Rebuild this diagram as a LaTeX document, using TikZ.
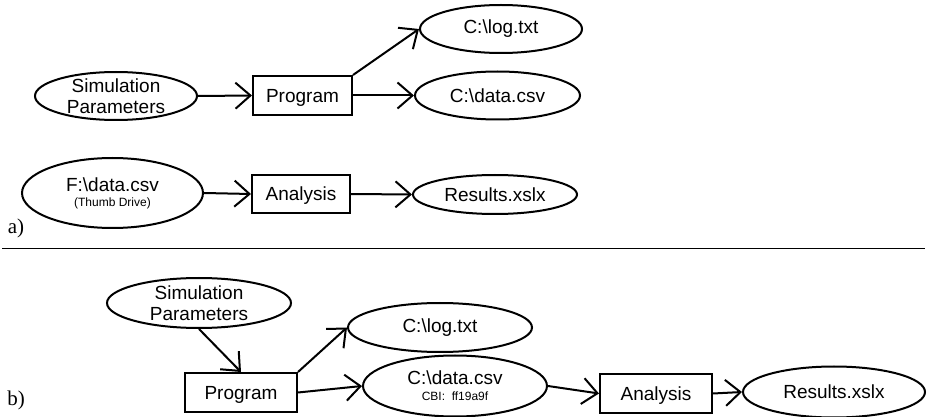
\documentclass[tikz,border=0pt]{standalone}
\usepackage{fontspec}
\setmainfont{Liberation Sans}
\newfontfamily\panelfont{Liberation Serif}
\usepackage{tikz}
\usetikzlibrary{shapes.geometric, arrows.meta, positioning}

\newcommand{\smalltag}[1]{{\fontsize{6}{7}\selectfont #1}}
\newcommand{\bs}{\textbackslash}

\begin{document}
\begin{tikzpicture}[
    x=0.5pt, y=-0.5pt,
    % Core styles
    datafile/.style={
        ellipse, draw=black, line width=1pt, inner sep=0pt,
        align=center, font=\fontsize{9.5}{10.5}\selectfont
    },
    process/.style={
        rectangle, draw=black, line width=1pt, inner sep=0pt,
        text depth=0pt, font=\fontsize{9.5}{10.5}\selectfont
    },
    flow/.style={
        -{Straight Barb[length=7.5pt, width=13pt]}, line width=1pt
    },
    panellabel/.style={font=\panelfont\fontsize{10.5}{12}\selectfont}
]
\useasboundingbox (0,0) rectangle (928,417);

% === PANEL A ===
\node[datafile, minimum width=81pt, minimum height=24pt, inner ysep=-3pt] (simA) at (116,96) {Simulation\\Parameters};
\node[process, minimum width=49.5pt, minimum height=19.5pt] (progA) at (302.5,95.5) {Program};
\node[datafile, minimum width=81pt, minimum height=24pt] (logA) at (501,29) {C:\bs log.txt};
\node[datafile, minimum width=82.5pt, minimum height=24pt] (dataA) at (497.5,95.5) {C:\bs data.csv};

\node[datafile, minimum width=90.5pt, minimum height=35pt] (thumbA) at (112.5,193) {F:\bs data.csv\\[-3pt]\smalltag{(Thumb Drive)}};
\node[process, minimum width=49pt, minimum height=19pt] (anaA) at (301,194) {Analysis};
\node[datafile, minimum width=82pt, minimum height=19.5pt] (resA) at (495,194.5) {Results.xslx};

\draw[flow] (simA.east) -- (progA.west);
\draw[flow] (progA.north east) -- (logA.west);
\draw[flow] (progA.east) -- (dataA.west);
\draw[flow] (thumbA.east) -- (anaA.west);
\draw[flow] (anaA.east) -- (resA.west);

\node[panellabel] (labA) at (16,228) {a)};

% === SEPARATOR ===
\coordinate (sepL) at (2,249);
\coordinate (sepR) at (925,249);
\draw[line width=0.5pt] (sepL) -- (sepR);

% === PANEL B ===
\node[datafile, minimum width=92pt, minimum height=25pt, inner ysep=-3pt] (simB) at (199,303) {Simulation\\Parameters};
\node[process, minimum width=56pt, minimum height=19.5pt] (progB) at (241,392.5) {Program};
\node[datafile, minimum width=92pt, minimum height=24.5pt] (logB) at (440,327.5) {C:\bs log.txt};
\node[datafile, minimum width=92pt, minimum height=30.5pt] (dataB) at (455,386) {C:\bs data.csv\\[-2.5pt]\smalltag{CBI:\ \ ff19a9f}};
\node[process, minimum width=56pt, minimum height=19.5pt] (anaB) at (656,393.5) {Analysis};
\node[datafile, minimum width=91pt, minimum height=25.5pt] (resB) at (834,392) {Results.xslx};

\draw[flow] (simB.south) -- (progB.north);
\draw[flow] (progB.north east) -- (logB.west);
\draw[flow] (progB.east) -- (dataB.west);
\draw[flow] (dataB.east) -- (anaB.west);
\draw[flow] (anaB.east) -- (resB.west);

\node[panellabel] (labB) at (16,400) {b)};

\end{tikzpicture}
\end{document}
